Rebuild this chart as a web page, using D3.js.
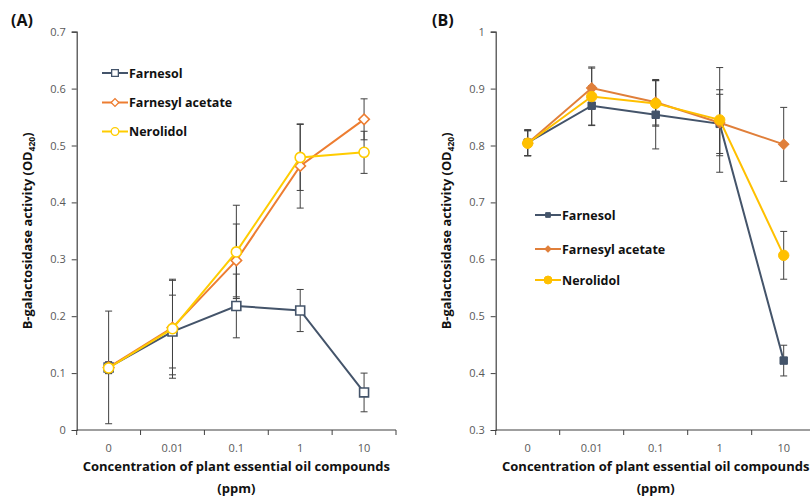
<!DOCTYPE html>
<html>
<head>
<meta charset="utf-8">
<script src="https://cdn.jsdelivr.net/npm/d3@7"></script>
<style>
  html, body { margin: 0; padding: 0; background: #fff; }
  svg { display: block; font-family: "Open Sans", "Noto Sans", sans-serif; }
</style>
</head>
<body>
<svg id="chart" width="810" height="499"></svg>
<script>
// Concentrations (ppm) shared by both panels
const concentrations = ["0", "0.01", "0.1", "1", "10"];
const seriesNames = ["Farnesol", "Farnesyl acetate", "Nerolidol"];

// Panel A: mean OD420 and standard deviation
const farnesolA = [0.110, 0.173, 0.218, 0.210, 0.066];
const farnesolAErr = [0.099, 0.064, 0.056, 0.037, 0.034];
const acetateA = [0.110, 0.180, 0.298, 0.464, 0.546];
const acetateAErr = [0.010, 0.083, 0.064, 0.074, 0.036];
const nerolidolA = [0.109, 0.178, 0.313, 0.479, 0.488];
const nerolidolAErr = [0.010, 0.087, 0.082, 0.058, 0.037];

// Panel B: mean OD420 and standard deviation
const farnesolB = [0.805, 0.870, 0.854, 0.838, 0.422];
const farnesolBErr = [0.023, 0.035, 0.060, 0.052, 0.027];
const acetateB = [0.804, 0.901, 0.876, 0.840, 0.802];
const acetateBErr = [0.022, 0.037, 0.040, 0.058, 0.065];
const nerolidolB = [0.804, 0.886, 0.874, 0.845, 0.607];
const nerolidolBErr = [0.022, 0.050, 0.040, 0.092, 0.042];

// Axis ticks
const yTicksA = [0, 0.1, 0.2, 0.3, 0.4, 0.5, 0.6, 0.7];
const yTicksB = [0.3, 0.4, 0.5, 0.6, 0.7, 0.8, 0.9, 1];

const svg = d3.select("#chart");
const axisColor = "#404040";
const labelColor = "#595959";
const errColor = "#404040";

// marker shapes: square, diamond (square turned 45°), circle
const markerTypes = [
  { type: d3.symbolSquare, rot: 0 },
  { type: d3.symbolSquare, rot: 45 },
  { type: d3.symbolCircle, rot: 0 }
];

function drawPanel(cfg) {
  const g = svg.append("g");
  const x = d3.scaleBand().domain(concentrations).range([cfg.x0, cfg.x1]).padding(0);
  const y = d3.scaleLinear().domain(cfg.yDomain).range([cfg.yBottom, cfg.yTop]);
  const cx = c => x(c) + x.bandwidth() / 2;

  // y axis
  const yAxis = d3.axisLeft(y).tickValues(cfg.yTicks).tickSize(5).tickPadding(6)
    .tickFormat(d => String(+d.toFixed(1)));
  const ya = g.append("g").attr("transform", `translate(${cfg.x0},0)`).call(yAxis);
  ya.select(".domain").attr("stroke", axisColor).attr("stroke-width", 1.2);
  ya.selectAll(".tick line").attr("stroke", axisColor);
  ya.selectAll(".tick text").attr("fill", labelColor).attr("font-size", 11)
    .attr("font-family", "'Open Sans', sans-serif");

  // x axis: ticks at category boundaries, labels centred in each category
  const xa = g.append("g");
  xa.append("line").attr("x1", cfg.x0).attr("x2", cfg.x1)
    .attr("y1", cfg.yBottom).attr("y2", cfg.yBottom)
    .attr("stroke", axisColor).attr("stroke-width", 1.2);
  const edges = concentrations.map(c => x(c)).concat([cfg.x1]);
  xa.selectAll(".xt").data(edges).join("line")
    .attr("x1", d => d).attr("x2", d => d)
    .attr("y1", cfg.yBottom).attr("y2", cfg.yBottom + 5)
    .attr("stroke", axisColor);
  xa.selectAll(".xl").data(concentrations).join("text")
    .attr("x", d => cx(d)).attr("y", cfg.yBottom + 22)
    .attr("text-anchor", "middle").attr("fill", labelColor).attr("font-size", 11)
    .text(d => d);

  // axis titles
  const midX = (cfg.x0 + cfg.x1) / 2;
  g.append("text").attr("x", midX).attr("y", 471).attr("text-anchor", "middle")
    .attr("font-weight", "bold").attr("font-size", 13).attr("fill", "#111")
    .text("Concentration of plant essential oil compounds");
  g.append("text").attr("x", midX).attr("y", 493).attr("text-anchor", "middle")
    .attr("font-weight", "bold").attr("font-size", 13).attr("fill", "#111")
    .text("(ppm)");
  const yt = g.append("text")
    .attr("transform", `translate(${cfg.yTitleX},${(cfg.yTop + cfg.yBottom) / 2}) rotate(-90)`)
    .attr("text-anchor", "middle").attr("font-weight", "bold").attr("font-size", 12.8)
    .attr("fill", "#111");
  yt.append("tspan").text("B-galactosidase activity (OD");
  yt.append("tspan").attr("font-size", 8.5).attr("dy", 3).text("420");
  yt.append("tspan").attr("dy", -3).text(")");

  // panel letter
  g.append("text").attr("x", cfg.letterX).attr("y", 26).attr("font-weight", "bold")
    .attr("font-size", 16).attr("fill", "#111").text(cfg.letter);

  // error bars for every series first, then lines and markers on top
  cfg.series.forEach(s => {
    const eb = g.append("g");
    s.values.forEach((v, i) => {
      const c = cx(concentrations[i]);
      const lo = y(v - s.err[i]), hi = y(v + s.err[i]);
      eb.append("line").attr("x1", c).attr("x2", c).attr("y1", lo).attr("y2", hi)
        .attr("stroke", errColor).attr("stroke-width", 1);
      [lo, hi].forEach(yy => eb.append("line").attr("x1", c - 3.5).attr("x2", c + 3.5)
        .attr("y1", yy).attr("y2", yy).attr("stroke", errColor).attr("stroke-width", 1));
    });
  });

  const line = d3.line().x((d, i) => cx(concentrations[i])).y(d => y(d));
  cfg.series.forEach((s, si) => {
    const m = markerTypes[si];
    g.append("path").datum(s.values).attr("d", line).attr("fill", "none")
      .attr("stroke", s.color).attr("stroke-width", 2);
    g.selectAll(null).data(s.values).join("path")
      .attr("transform", (d, i) => `translate(${cx(concentrations[i])},${y(d)}) rotate(${m.rot})`)
      .attr("d", d3.symbol().type(m.type).size(cfg.symSize[si]))
      .attr("fill", cfg.filled ? s.color : "#fff")
      .attr("stroke", s.color).attr("stroke-width", cfg.filled ? 1 : 1.6);
  });

  // legend
  const lg = g.append("g");
  cfg.series.forEach((s, si) => {
    const ly = cfg.legendY[si];
    const m = markerTypes[si];
    lg.append("line").attr("x1", cfg.legendX).attr("x2", cfg.legendX + 26)
      .attr("y1", ly).attr("y2", ly).attr("stroke", s.color).attr("stroke-width", 2);
    lg.append("path").attr("transform", `translate(${cfg.legendX + 13},${ly}) rotate(${m.rot})`)
      .attr("d", d3.symbol().type(m.type).size(cfg.legendSym[si]))
      .attr("fill", cfg.filled ? s.color : "#fff")
      .attr("stroke", s.color).attr("stroke-width", cfg.filled ? 1 : 1.3);
    lg.append("text").attr("x", cfg.legendX + 27).attr("y", ly + 4.5)
      .attr("font-weight", "bold").attr("font-size", 12.5).attr("fill", "#111")
      .text(seriesNames[si]);
  });
}

drawPanel({
  letter: "(A)", letterX: 11, x0: 76.7, x1: 396, yTop: 31.7, yBottom: 430,
  yDomain: [0, 0.7], yTicks: yTicksA, yTitleX: 32, filled: false,
  symSize: [80, 55, 80], legendSym: [45, 30, 45],
  legendX: 102, legendY: [73, 102.5, 131.5],
  series: [
    { values: farnesolA, err: farnesolAErr, color: "#44546A" },
    { values: acetateA, err: acetateAErr, color: "#ED7D31" },
    { values: nerolidolA, err: nerolidolAErr, color: "#FFCC00" }
  ]
});

drawPanel({
  letter: "(B)", letterX: 432, x0: 495.7, x1: 815.7, yTop: 31.7, yBottom: 430,
  yDomain: [0.3, 1], yTicks: yTicksB, yTitleX: 451, filled: true,
  symSize: [55, 55, 85], legendSym: [22, 20, 50],
  legendX: 535, legendY: [215, 249, 280],
  series: [
    { values: farnesolB, err: farnesolBErr, color: "#44546A" },
    { values: acetateB, err: acetateBErr, color: "#E07F3A" },
    { values: nerolidolB, err: nerolidolBErr, color: "#FFC000" }
  ]
});
</script>
</body>
</html>
